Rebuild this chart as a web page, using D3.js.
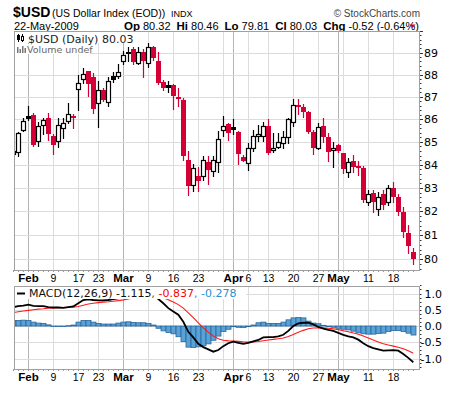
<!DOCTYPE html>
<html>
<head>
<meta charset="utf-8">
<script src="https://cdn.jsdelivr.net/npm/d3@7"></script>
<style>
  body { margin: 0; background: #fff; }
  text { font-family: "Liberation Sans", Arial, sans-serif; }
  .dv { font-family: "DejaVu Sans", Verdana, sans-serif; }
</style>
</head>
<body>
<div id="chart"></div>
<script>
// trading days shown
var dates = ["2009-01-28","2009-01-29","2009-01-30",
  "2009-02-02","2009-02-03","2009-02-04","2009-02-05","2009-02-06","2009-02-09","2009-02-10","2009-02-11","2009-02-12","2009-02-13",
  "2009-02-17","2009-02-18","2009-02-19","2009-02-20","2009-02-23","2009-02-24","2009-02-25","2009-02-26","2009-02-27",
  "2009-03-02","2009-03-03","2009-03-04","2009-03-05","2009-03-06","2009-03-09","2009-03-10","2009-03-11","2009-03-12","2009-03-13",
  "2009-03-16","2009-03-17","2009-03-18","2009-03-19","2009-03-20","2009-03-23","2009-03-24","2009-03-25","2009-03-26","2009-03-27",
  "2009-03-30","2009-03-31","2009-04-01","2009-04-02","2009-04-03","2009-04-06","2009-04-07","2009-04-08","2009-04-09",
  "2009-04-13","2009-04-14","2009-04-15","2009-04-16","2009-04-17","2009-04-20","2009-04-21","2009-04-22","2009-04-23","2009-04-24",
  "2009-04-27","2009-04-28","2009-04-29","2009-04-30","2009-05-01","2009-05-04","2009-05-05","2009-05-06","2009-05-07","2009-05-08",
  "2009-05-11","2009-05-12","2009-05-13","2009-05-14","2009-05-15","2009-05-18","2009-05-19","2009-05-20","2009-05-21","2009-05-22"];

var opens = [84.45,84.55,85.53, 86.16,86.19,85.04,85.72,86.07,85.24,85.02,85.60,85.93,86.12,
  87.36,87.81,88.14,87.87,86.72,87.31,86.76,87.92,87.92,
  88.60,89.05,89.17,88.52,89.05,88.51,89.24,88.63,87.68,87.54,
  87.51,86.98,86.86,84.22,83.11,83.53,83.50,84.12,83.71,84.10,
  85.51,85.79,85.64,85.41,84.33,84.07,84.71,85.27,85.25,
  85.68,84.62,84.79,84.94,85.19,85.89,86.65,86.55,86.30,85.45,
  84.72,85.70,85.19,84.62,84.85,84.52,83.70,84.16,83.94,83.84,
  82.41,82.77,82.09,82.74,82.41,82.98,82.60,81.99,81.08,80.32];
var highs = [84.70,85.45,86.07, 86.57,86.26,85.87,86.07,86.26,85.34,86.07,86.05,86.74,86.22,
  87.99,88.32,88.17,88.06,87.71,87.39,87.87,88.11,88.47,
  89.06,89.28,89.28,89.28,89.17,89.45,89.31,89.04,87.75,87.71,
  87.57,87.39,86.94,84.61,84.03,83.89,84.39,84.37,84.39,85.48,
  86.12,85.82,86.01,85.48,84.43,84.94,85.53,85.75,85.87,
  86.01,85.38,85.38,85.48,86.05,86.88,86.88,86.67,86.38,85.50,
  85.85,86.03,85.40,85.00,84.90,84.52,84.28,84.42,84.17,83.94,
  82.91,82.91,82.84,82.91,83.12,83.27,82.74,82.20,81.42,80.46];
var lows = [84.35,84.37,85.46, 85.97,84.80,84.80,85.34,85.09,84.46,84.76,85.16,85.82,85.60,
  86.42,87.64,87.01,86.26,85.64,86.79,86.57,87.68,87.84,
  88.47,88.60,88.47,88.47,87.87,88.36,88.66,87.55,87.30,87.21,
  86.47,86.57,84.22,82.70,82.88,82.88,83.35,83.17,83.50,83.68,
  85.24,85.09,85.34,84.03,84.15,83.76,84.61,85.02,85.02,
  84.46,84.57,84.71,84.74,84.93,85.70,86.22,86.08,85.38,84.46,
  84.70,85.00,84.17,83.89,84.55,83.66,83.48,83.70,83.55,82.41,
  82.26,81.99,81.85,82.09,82.26,82.41,81.85,80.94,80.25,79.81];
var closes = [84.60,85.38,85.90, 86.01,84.87,85.68,85.94,85.34,84.84,85.72,85.85,86.22,86.05,
  87.62,88.02,87.57,86.47,87.31,86.86,87.71,87.76,88.10,
  88.87,88.95,88.57,89.02,88.60,89.24,88.76,87.60,87.38,87.40,
  87.01,86.89,84.37,83.07,83.86,83.31,84.19,83.78,84.19,85.12,
  85.68,85.38,85.50,84.46,84.17,84.72,85.27,85.34,85.68,
  84.53,84.72,84.99,85.19,85.99,86.62,86.55,86.30,85.45,84.72,
  85.64,85.19,84.56,84.74,84.61,83.80,84.13,83.91,83.84,82.48,
  82.74,82.39,82.63,82.27,82.98,82.60,81.99,81.15,80.55,80.03];

// MACD(12,26,9) panel values
var macdLine = [0.58,0.61,0.63,0.66,0.62,0.61,0.61,0.58,0.57,0.57,0.56,0.58,0.60,
  0.70,0.80,0.82,0.80,0.79,0.79,0.80,0.83,0.85,
  0.90,0.95,0.98,1.00,1.00,1.00,0.95,0.83,0.70,0.55,
  0.45,0.35,0.13,-0.18,-0.35,-0.55,-0.65,-0.72,-0.79,-0.74,
  -0.62,-0.53,-0.48,-0.52,-0.55,-0.52,-0.47,-0.43,-0.35,
  -0.34,-0.34,-0.32,-0.27,-0.15,0.00,0.08,0.10,0.10,0.05,
  -0.03,-0.08,-0.12,-0.15,-0.21,-0.27,-0.32,-0.35,-0.42,-0.53,
  -0.62,-0.68,-0.72,-0.76,-0.75,-0.74,-0.76,-0.86,-0.98,-1.115];
var signalLine = [0.41,0.44,0.46,0.48,0.50,0.52,0.53,0.545,0.555,0.565,0.57,0.575,0.58,
  0.60,0.64,0.678,0.702,0.72,0.734,0.747,0.764,0.781,
  0.805,0.834,0.863,0.89,0.912,0.93,0.934,0.913,0.87,0.806,
  0.735,0.658,0.552,0.406,0.255,0.094,-0.055,-0.188,-0.308,-0.395,
  -0.44,-0.458,-0.462,-0.474,-0.489,-0.495,-0.49,-0.478,-0.452,
  -0.43,-0.412,-0.394,-0.369,-0.325,-0.26,-0.192,-0.134,-0.087,-0.06,
  -0.054,-0.059,-0.071,-0.087,-0.112,-0.144,-0.179,-0.213,-0.254,-0.309,
  -0.371,-0.433,-0.49,-0.544,-0.585,-0.62,-0.652,-0.697,-0.76,-0.837];
var histValues = [0.17,0.17,0.18,0.17,0.12,0.09,0.08,0.035,0.0,-0.005,-0.01,0.01,0.03,
  0.12,0.17,0.17,0.12,0.08,0.06,0.06,0.06,0.09,
  0.12,0.13,0.11,0.10,0.10,0.08,0.03,-0.07,-0.15,-0.20,
  -0.24,-0.33,-0.48,-0.65,-0.66,-0.64,-0.61,-0.55,-0.44,-0.31,
  -0.17,-0.10,-0.02,-0.04,-0.05,-0.02,0.03,0.10,0.12,
  0.08,0.08,0.08,0.12,0.19,0.25,0.26,0.25,0.15,0.09,
  0.07,0.02,-0.02,-0.04,-0.07,-0.10,-0.12,-0.16,-0.21,-0.24,
  -0.25,-0.25,-0.23,-0.22,-0.17,-0.14,-0.14,-0.17,-0.22,-0.278];

var priceTicks = [80,81,82,83,84,85,86,87,88,89];
var macdTicks = [1.0,0.5,0.0,-0.5,-1.0];
var gridDates = ["2009-02-02","2009-02-09","2009-02-17","2009-02-23","2009-03-02","2009-03-09","2009-03-16","2009-03-23",
  "2009-03-30","2009-04-01","2009-04-06","2009-04-13","2009-04-20","2009-04-27","2009-05-01","2009-05-04","2009-05-11","2009-05-18"];
var gridLabels = ["Feb","9","17","23","Mar","9","16","23","","Apr","6","13","20","27","May","","11","18"];
var monthStarts = ["2009-02-02","2009-03-02","2009-04-01","2009-05-01"];
var quoteLabels = ["Op","Hi","Lo","Cl","Chg"];
var quoteValues = ["80.32","80.46","79.81","80.03","-0.52 (-0.64%)"];

var W = 450, H = 396;
var left = 14, right = 420;
var mainTop = 31, mainBottom = 270;
var macdTop = 286, macdBottom = 369;
var RED = "#d40035";

var svg = d3.select("#chart").append("svg")
    .attr("width", W).attr("height", H)
    .style("display", "block");

// Scales
var x = d3.scaleLinear().domain([0, dates.length - 1]).range([13.3, 413.3]);
var y = d3.scaleLog().domain([79.56, 90.0]).range([mainBottom, mainTop]);
var yM = d3.scaleLinear().domain([-1.323, 1.231]).range([macdBottom, macdTop]);
function px(i) { return Math.round(x(i)); }

var defs = svg.append("defs");
defs.append("clipPath").attr("id", "clipMain").append("rect")
    .attr("x", left + 0.5).attr("y", mainTop + 0.5).attr("width", right - left - 1).attr("height", mainBottom - mainTop - 1);
defs.append("clipPath").attr("id", "clipMacd").append("rect")
    .attr("x", left + 0.5).attr("y", macdTop + 0.5).attr("width", right - left - 1).attr("height", macdBottom - macdTop - 1);

// Header
svg.append("text").attr("x", 13).attr("y", 17)
    .style("font-weight", "bold").style("font-size", "14px").text("$USD");
svg.append("text").attr("x", 52).attr("y", 17)
    .style("font-size", "10.5px").text("(US Dollar Index (EOD))");
svg.append("text").attr("x", 171).attr("y", 17)
    .style("font-size", "9px").text("INDX");
svg.append("text").attr("x", 420).attr("y", 17).attr("text-anchor", "end")
    .style("font-size", "10px").style("fill", "#444").text("\u00a9 StockCharts.com");

svg.append("text").attr("x", 14).attr("y", 29.5).style("font-size", "11px").text("22-May-2009");
var quote = svg.append("text").attr("x", 124).attr("y", 29.5).style("font-size", "11px");
quoteLabels.forEach(function (lab, i) {
    quote.append("tspan").attr("dx", i ? 6 : 0).style("font-weight", "bold").style("font-size", "11.5px").text(lab);
    quote.append("tspan").attr("dx", 3).text(quoteValues[i]);
});
svg.append("path").attr("d", "M409.5,24.5 L415.5,24.5 L412.5,28 Z").attr("fill", RED);

// Grid + frames for both panels
function panelGrid(top, bottom, hTicks, yScale) {
    var g = svg.append("g");
    g.selectAll(".vg").data(gridDates).enter().append("line")
        .attr("x1", function (d) { return px(dates.indexOf(d)) + 0.5; })
        .attr("x2", function (d) { return px(dates.indexOf(d)) + 0.5; })
        .attr("y1", top).attr("y2", bottom)
        .attr("stroke", function (d) { return monthStarts.indexOf(d) >= 0 ? "#b4b4b4" : "#dcdcdc"; })
        .attr("stroke-width", 1);
    g.selectAll(".hg").data(hTicks).enter().append("line")
        .attr("x1", left).attr("x2", right)
        .attr("y1", function (d) { return Math.round(yScale(d)) + 0.5; })
        .attr("y2", function (d) { return Math.round(yScale(d)) + 0.5; })
        .attr("stroke", "#dcdcdc");
    // day ticks along the bottom
    g.selectAll(".dt").data(dates).enter().append("line")
        .attr("x1", function (d, i) { return px(i) + 0.5; })
        .attr("x2", function (d, i) { return px(i) + 0.5; })
        .attr("y1", bottom).attr("y2", bottom + 2)
        .attr("stroke", "#999");
    return g;
}
panelGrid(mainTop, mainBottom, priceTicks, y);
panelGrid(macdTop, macdBottom, macdTicks, yM);

// Candles
var candles = svg.append("g").attr("clip-path", "url(#clipMain)");
var cData = dates.map(function (d, i) {
    var prev = i > 0 ? closes[i - 1] : opens[i];
    return {i: i, o: opens[i], h: highs[i], l: lows[i], c: closes[i],
            color: closes[i] < prev ? RED : "#000", hollow: closes[i] >= opens[i]};
});
candles.selectAll(".wick").data(cData).enter().append("line")
    .attr("x1", function (d) { return px(d.i) + 0.5; })
    .attr("x2", function (d) { return px(d.i) + 0.5; })
    .attr("y1", function (d) { return Math.round(y(d.h)); })
    .attr("y2", function (d) { return Math.round(y(d.l)) + 1; })
    .attr("stroke", function (d) { return d.color; })
    .attr("stroke-width", 1.2);
candles.selectAll(".body").data(cData).enter().append("rect")
    .attr("x", function (d) { return d.hollow ? px(d.i) - 1.5 : px(d.i) - 2; })
    .attr("y", function (d) { return Math.round(y(Math.max(d.o, d.c))) + (d.hollow ? 0.5 : 0); })
    .attr("width", function (d) { return d.hollow ? 4 : 5; })
    .attr("height", function (d) {
        var h = Math.round(y(Math.min(d.o, d.c))) - Math.round(y(Math.max(d.o, d.c)));
        return Math.max(d.hollow ? 1 : 2, h);
    })
    .attr("fill", function (d) { return d.hollow ? "#fff" : d.color; })
    .attr("stroke", function (d) { return d.hollow ? d.color : "none"; })
    .attr("stroke-width", 1.2);

// MACD histogram + lines
var mg = svg.append("g").attr("clip-path", "url(#clipMacd)");
mg.selectAll(".bar").data(histValues).enter().append("rect")
    .attr("x", function (d, i) { return px(i) - 2; })
    .attr("width", 5)
    .attr("y", function (d) { return Math.min(yM(d), yM(0)); })
    .attr("height", function (d) { return Math.max(0.5, Math.abs(yM(d) - yM(0))); })
    .attr("fill", "#58a2d6")
    .attr("stroke", "#2a679e")
    .attr("stroke-width", 0.8);
mg.append("path").datum(signalLine)
    .attr("d", d3.line().x(function (d, i) { return x(i); }).y(function (d) { return yM(d); }))
    .attr("fill", "none").attr("stroke", "#ff1a1a").attr("stroke-width", 1.1);
mg.append("path").datum(macdLine)
    .attr("d", d3.line().x(function (d, i) { return x(i); }).y(function (d) { return yM(d); }))
    .attr("fill", "none").attr("stroke", "#000").attr("stroke-width", 1.8);

// Frames
[[mainTop, mainBottom], [macdTop, macdBottom]].forEach(function (p) {
    svg.append("rect").attr("x", left + 0.5).attr("y", p[0] + 0.5)
        .attr("width", right - left - 1).attr("height", p[1] - p[0])
        .attr("fill", "none").attr("stroke", "#a0a0a0");
});

// Right price axis
var ya = svg.append("g");
ya.selectAll("text").data(priceTicks).enter().append("text")
    .attr("class", "dv")
    .attr("x", 424).attr("y", function (d) { return y(d) + 4; })
    .style("font-size", "11px").text(function (d) { return d; });
var minor = d3.range(79.6, 90.0, 0.2);
ya.selectAll(".mt").data(minor).enter().append("line")
    .attr("x1", right).attr("x2", function (d) { return Math.abs(d - Math.round(d)) < 0.01 ? right + 3 : right + 1.5; })
    .attr("y1", function (d) { return Math.round(y(d)) + 0.5; })
    .attr("y2", function (d) { return Math.round(y(d)) + 0.5; })
    .attr("stroke", "#333");

// Right MACD axis
var ma = svg.append("g");
ma.selectAll("text").data(macdTicks).enter().append("text")
    .attr("class", "dv")
    .attr("x", 442).attr("y", function (d) { return yM(d) + 4; })
    .attr("text-anchor", "end")
    .style("font-size", "11px").text(function (d) { return d3.format(".1f")(d).replace("\u2212", "-"); });
ma.selectAll(".mt").data(d3.range(-1.25, 1.26, 0.125)).enter().append("line")
    .attr("x1", right).attr("x2", right + 1.5)
    .attr("y1", function (d) { return Math.round(yM(d)) + 0.5; })
    .attr("y2", function (d) { return Math.round(yM(d)) + 0.5; })
    .attr("stroke", "#333");

// Date labels (between panels and at bottom)
[281.5, 381].forEach(function (by) {
    svg.append("g").selectAll("text").data(gridDates).enter().append("text")
        .attr("x", function (d) { return px(dates.indexOf(d)) + 0.5; })
        .attr("y", by)
        .attr("text-anchor", "middle")
        .style("font-size", function (d, i) { return isNaN(+gridLabels[i]) ? "11.5px" : "10.5px"; })
        .style("font-weight", function (d, i) { return isNaN(+gridLabels[i]) ? "bold" : "normal"; })
        .text(function (d, i) { return gridLabels[i]; });
});

// Main legend
svg.append("rect").attr("x", 15).attr("y", 32).attr("width", 121).attr("height", 11).attr("fill", "#fff");
svg.append("rect").attr("x", 15).attr("y", 44).attr("width", 75).attr("height", 10).attr("fill", "#fff");
var icon = svg.append("g");
icon.append("line").attr("x1", 18.5).attr("x2", 18.5).attr("y1", 34).attr("y2", 42).attr("stroke", "#000");
icon.append("rect").attr("x", 17).attr("y", 35).attr("width", 3).attr("height", 5).attr("fill", "#000");
icon.append("line").attr("x1", 22.5).attr("x2", 22.5).attr("y1", 34).attr("y2", 42).attr("stroke", "#000");
icon.append("rect").attr("x", 21.5).attr("y", 36.5).attr("width", 2).attr("height", 4).attr("fill", "#fff").attr("stroke", "#000");
svg.append("text").attr("class", "dv").attr("x", 28).attr("y", 42.5)
    .style("font-size", "11px").style("fill", "#222").text("$USD (Daily) 80.03");
var vol = svg.append("g").attr("fill", "#777");
[[17, 47, 6], [19.5, 49, 4], [22, 46, 7], [24.5, 48, 5]].forEach(function (b) {
    vol.append("rect").attr("x", b[0]).attr("y", b[1]).attr("width", 1.5).attr("height", b[2]);
});
svg.append("text").attr("class", "dv").attr("x", 27).attr("y", 53)
    .style("font-size", "9.5px").style("fill", "#666").text("Volume undef");

// MACD legend
svg.append("rect").attr("x", 15).attr("y", 287).attr("width", 231).attr("height", 12).attr("fill", "#fff");
svg.append("line").attr("x1", 17).attr("x2", 25).attr("y1", 293.5).attr("y2", 293.5).attr("stroke", "#000").attr("stroke-width", 2);
var ml = svg.append("text").attr("class", "dv").attr("x", 29).attr("y", 297).style("font-size", "11px");
ml.append("tspan").style("fill", "#111").text("MACD(12,26,9) -1.115");
ml.append("tspan").style("fill", "#ff0000").text(", -0.837");
ml.append("tspan").style("fill", "#2a8fd0").text(", -0.278");
</script>
</body>
</html>
